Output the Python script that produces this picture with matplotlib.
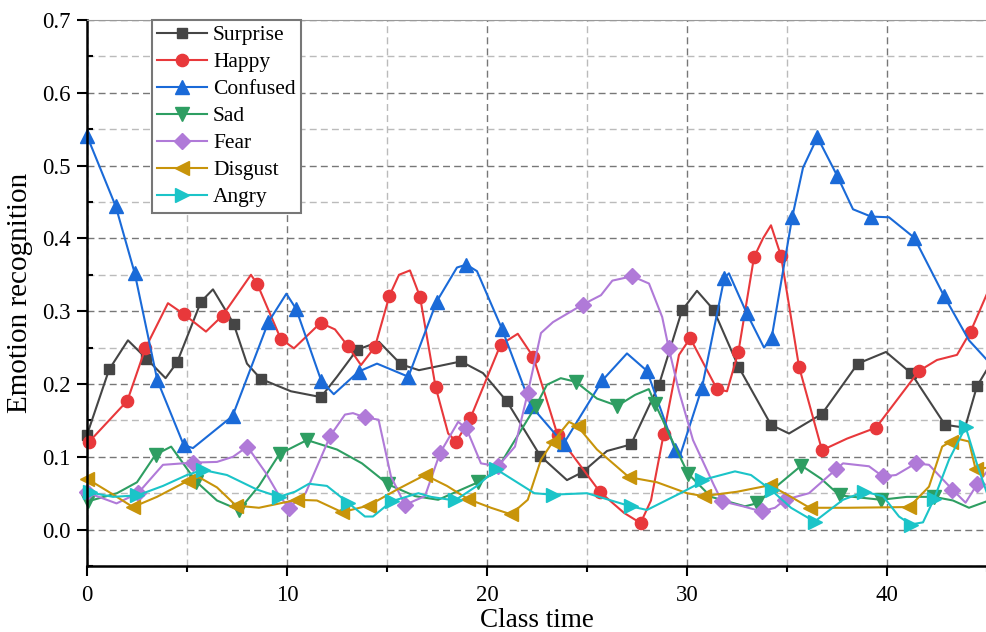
import matplotlib
matplotlib.use("Agg")
import matplotlib.pyplot as plt
from matplotlib.ticker import MultipleLocator

plt.rcParams['font.family'] = ['Liberation Serif', 'DejaVu Serif']

# 数据 (curve points; *_mk = indices carrying a marker)
surprise_x = [0, 1.11, 2.05, 2.97, 3.93, 4.51, 5.7, 6.3, 7.33, 8.0, 8.69, 10.2, 11.7, 12.5, 13.5, 14.6,
              15.7, 16.6, 18.7, 19.8, 21.0, 22.67, 24.0, 24.78, 26.0, 27.2, 28.6, 29.75, 30.5, 31.33,
              32.57, 34.2, 35.1, 36.75, 38.54, 39.95, 41.2, 42.9, 43.9, 44.5, 45]
surprise_y = [0.13, 0.22, 0.26, 0.235, 0.208, 0.23, 0.313, 0.33, 0.283, 0.228, 0.207, 0.19, 0.182, 0.21,
              0.247, 0.258, 0.227, 0.219, 0.231, 0.215, 0.176, 0.101, 0.068, 0.079, 0.108, 0.117, 0.199,
              0.301, 0.328, 0.302, 0.224, 0.144, 0.132, 0.159, 0.228, 0.244, 0.215, 0.144, 0.14, 0.197, 0.22]
surprise_mk = [0, 1, 3, 5, 6, 8, 10, 12, 14, 16, 18, 20, 21, 23, 25, 26, 27, 29, 30, 31, 33, 34, 36, 37, 39]

happy_x = [0.12, 2.02, 2.92, 4.05, 4.84, 5.95, 6.78, 8.2, 8.52, 9.69, 10.35, 11.68, 12.4, 13.05, 13.7,
           14.4, 15.12, 15.6, 16.15, 16.65, 17.43, 18.06, 18.47, 19.17, 20.68, 21.54, 22.32, 23.53, 25.64,
           26.85, 27.68, 28.2, 28.84, 29.6, 30.16, 31.5, 32.0, 32.57, 33.35, 33.8, 34.2, 34.7, 35.6, 36.75,
           38.0, 39.45, 41.6, 42.5, 43.5, 44.18, 45]
happy_y = [0.121, 0.177, 0.249, 0.311, 0.296, 0.272, 0.294, 0.35, 0.337, 0.262, 0.249, 0.284, 0.275, 0.252,
           0.226, 0.251, 0.321, 0.35, 0.356, 0.32, 0.196, 0.132, 0.121, 0.153, 0.254, 0.269, 0.237, 0.13,
           0.052, 0.023, 0.009, 0.04, 0.132, 0.24, 0.263, 0.193, 0.19, 0.244, 0.374, 0.40, 0.418, 0.376,
           0.224, 0.109, 0.125, 0.14, 0.218, 0.233, 0.24, 0.272, 0.324]
happy_mk = [0, 1, 2, 4, 6, 8, 9, 11, 13, 15, 16, 19, 20, 22, 23, 24, 26, 27, 28, 30, 32, 34, 35, 37, 38,
            41, 42, 43, 45, 46, 49]

confused_x = [0, 1.44, 2.39, 3.52, 4.84, 5.3, 7.28, 9.07, 9.97, 10.46, 11.72, 12.34, 13.58, 14.5, 16.07,
              17.48, 18.5, 18.97, 19.5, 20.76, 22.2, 23.83, 25.77, 27.0, 28.0, 29.4, 29.67, 30.75, 31.87,
              32.1, 32.99, 33.85, 34.23, 35.26, 35.8, 36.52, 37.51, 38.3, 39.2, 40.1, 41.36, 42.85, 44.1, 45]
confused_y = [0.541, 0.444, 0.352, 0.205, 0.116, 0.112, 0.156, 0.285, 0.324, 0.303, 0.204, 0.186, 0.217,
              0.228, 0.21, 0.313, 0.36, 0.364, 0.355, 0.275, 0.17, 0.118, 0.205, 0.242, 0.218, 0.11, 0.103,
              0.195, 0.346, 0.352, 0.297, 0.25, 0.263, 0.429, 0.497, 0.539, 0.486, 0.44, 0.43, 0.429, 0.401,
              0.321, 0.26, 0.233]
confused_mk = [0, 1, 2, 3, 4, 6, 7, 9, 10, 12, 14, 15, 17, 19, 20, 21, 22, 24, 25, 27, 28, 30, 32, 33,
               35, 36, 38, 40, 41]

sad_x = [0.07, 1.5, 2.5, 3.43, 4.21, 5.46, 6.5, 7.61, 8.6, 9.63, 11.0, 12.5, 13.75, 15.07, 16.4, 17.56,
         19.55, 20.4, 21.0, 22.45, 23.0, 23.69, 24.44, 25.5, 26.52, 27.4, 28.09, 28.42, 29.3, 30.05, 31.2,
         32.9, 33.48, 34.5, 35.72, 36.7, 37.63, 39.7, 41.0, 42.35, 43.3, 44.1, 45]
sad_y = [0.039, 0.05, 0.065, 0.103, 0.114, 0.066, 0.04, 0.027, 0.06, 0.104, 0.123, 0.11, 0.091, 0.062,
         0.046, 0.041, 0.065, 0.078, 0.105, 0.17, 0.199, 0.208, 0.203, 0.18, 0.17, 0.185, 0.193, 0.172,
         0.12, 0.077, 0.045, 0.032, 0.036, 0.06, 0.088, 0.07, 0.047, 0.041, 0.045, 0.045, 0.04, 0.03, 0.039]
sad_mk = [0, 3, 5, 7, 9, 10, 13, 16, 19, 22, 24, 27, 29, 32, 34, 36, 37, 39]

fear_x = [0, 1.48, 2.55, 3.8, 5.29, 6.5, 7.3, 8.02, 8.94, 9.6, 10.1, 10.93, 12.17, 12.9, 13.3, 13.91,
          14.58, 15.2, 15.9, 16.9, 17.65, 18.56, 18.97, 19.7, 20.55, 21.4, 22.04, 22.7, 23.3, 24.78, 25.7,
          26.27, 27.26, 28.1, 28.76, 29.09, 29.6, 30.3, 31.33, 31.74, 32.8, 33.73, 34.4, 34.9, 36.1, 37.46,
          37.8, 39.1, 39.79, 40.45, 41.44, 42.1, 43.27, 43.93, 44.5, 45]
fear_y = [0.051, 0.036, 0.05, 0.089, 0.092, 0.093, 0.1, 0.114, 0.078, 0.047, 0.03, 0.05, 0.129, 0.158,
          0.16, 0.154, 0.151, 0.073, 0.034, 0.046, 0.105, 0.148, 0.139, 0.091, 0.087, 0.114, 0.188, 0.27,
          0.285, 0.309, 0.322, 0.342, 0.348, 0.338, 0.292, 0.249, 0.19, 0.123, 0.062, 0.039, 0.032, 0.025,
          0.03, 0.041, 0.05, 0.083, 0.091, 0.087, 0.073, 0.075, 0.091, 0.089, 0.055, 0.037, 0.062, 0.08]
fear_mk = [0, 2, 4, 7, 10, 12, 15, 18, 20, 22, 24, 26, 29, 32, 35, 39, 41, 43, 45, 48, 50, 52, 54]

disgust_x = [0, 1.2, 2.3, 3.5, 5.04, 5.6, 6.5, 7.45, 8.6, 10.5, 11.5, 12.75, 14.08, 15.5, 16.9, 18.0,
             19.05, 20.2, 21.2, 22.04, 22.7, 23.3, 24.1, 24.53, 25.5, 27.1, 28.5, 30.0, 30.83, 32.5, 34.15,
             35.2, 36.13, 38.0, 41.11, 42.1, 42.76, 43.18, 43.5, 44.1, 44.43, 45]
disgust_y = [0.07, 0.05, 0.031, 0.045, 0.067, 0.072, 0.058, 0.033, 0.03, 0.041, 0.04, 0.024, 0.033, 0.055,
             0.075, 0.06, 0.042, 0.03, 0.021, 0.041, 0.096, 0.121, 0.148, 0.142, 0.11, 0.072, 0.065, 0.05,
             0.046, 0.052, 0.061, 0.045, 0.03, 0.03, 0.031, 0.059, 0.114, 0.121, 0.125, 0.121, 0.083, 0.085]
disgust_mk = [0, 2, 4, 7, 9, 11, 12, 14, 16, 18, 21, 23, 25, 28, 30, 32, 34, 37, 40]

angry_x = [0.15, 1.3, 2.52, 3.8, 5.0, 5.79, 7.0, 8.5, 9.6, 10.4, 11.1, 12.0, 13.05, 13.9, 14.3, 15.24,
           16.57, 17.2, 18.39, 19.5, 20.46, 22.37, 23.28, 25.0, 27.18, 28.0, 29.67, 30.5, 30.75, 32.4,
           33.2, 34.23, 35.2, 36.38, 37.8, 38.87, 39.8, 40.6, 41.19, 41.8, 42.35, 43.1, 43.93, 44.5, 45]
angry_y = [0.051, 0.045, 0.047, 0.06, 0.075, 0.082, 0.075, 0.055, 0.045, 0.052, 0.063, 0.06, 0.037, 0.018,
           0.018, 0.039, 0.05, 0.045, 0.04, 0.06, 0.083, 0.05, 0.048, 0.05, 0.032, 0.027, 0.05, 0.062,
           0.068, 0.08, 0.075, 0.054, 0.03, 0.011, 0.041, 0.052, 0.046, 0.018, 0.007, 0.01, 0.042, 0.096,
           0.141, 0.09, 0.05]
angry_mk = [0, 2, 5, 8, 12, 15, 18, 20, 22, 24, 28, 31, 33, 35, 38, 40, 42]

series = [
    ("Surprise", surprise_x, surprise_y, surprise_mk, '#454545', 's', 7.8),
    ("Happy", happy_x, happy_y, happy_mk, '#e8383b', 'o', 8.8),
    ("Confused", confused_x, confused_y, confused_mk, '#1a6ad8', '^', 10),
    ("Sad", sad_x, sad_y, sad_mk, '#2e9e62', 'v', 10),
    ("Fear", fear_x, fear_y, fear_mk, '#b07ad8', 'D', 7.8),
    ("Disgust", disgust_x, disgust_y, disgust_mk, '#c8940a', '<', 10),
    ("Angry", angry_x, angry_y, angry_mk, '#1bc4c8', '>', 10),
]

fig = plt.figure(figsize=(9.87, 6.32), dpi=100)
ax = fig.add_axes([0.0881, 0.1044, 0.9119, 0.864])

for name, xs, ys, mk, col, m, ms in series:
    ax.plot(xs, ys, color=col, lw=1.5, marker=m, markersize=ms, markevery=mk,
            markerfacecolor=col, markeredgecolor=col, label=name, clip_on=False)

ax.set_xlim(0, 45)
ax.set_ylim(-0.05, 0.7)
ax.xaxis.set_major_locator(MultipleLocator(10))
ax.xaxis.set_minor_locator(MultipleLocator(5))
ax.yaxis.set_minor_locator(MultipleLocator(0.05))
ax.set_yticks([0, 0.1, 0.2, 0.3, 0.4, 0.5, 0.6, 0.7])
ax.set_yticklabels(['0.0', '0.1', '0.2', '0.3', '0.4', '0.5', '0.6', '0.7'])

ax.grid(which='major', color='#777777', linestyle=(0, (5, 3)), linewidth=1.0)
ax.grid(which='minor', color='#bbbbbb', linestyle=(0, (5, 3)), linewidth=1.0)
ax.set_axisbelow(True)

ax.tick_params(which='major', direction='out', length=7, width=1.5, labelsize=16.5)
ax.tick_params(axis='x', which='major', pad=7)
ax.tick_params(axis='y', which='major', pad=5)
ax.tick_params(axis='x', which='minor', direction='out', length=4, width=1.5)
ax.tick_params(axis='y', which='minor', direction='in', length=4, width=1.5)

for s in ['left', 'bottom']:
    ax.spines[s].set_linewidth(1.8)
ax.spines['right'].set_visible(False)
ax.spines['top'].set_color('#999999')

ax.set_xlabel("Class time", fontsize=19.5, labelpad=1)
ax.set_ylabel("Emotion recognition", fontsize=21, labelpad=6)

leg = ax.legend(loc='upper left', bbox_to_anchor=(0.072, 1.0), fontsize=15.5, frameon=True,
                fancybox=False, borderaxespad=0, handlelength=2.3, labelspacing=0.32,
                borderpad=0.25, handletextpad=0.3, framealpha=1)
leg.get_frame().set_edgecolor('#777777')
leg.get_frame().set_linewidth(1.5)

plt.savefig("out.png", dpi=100)
